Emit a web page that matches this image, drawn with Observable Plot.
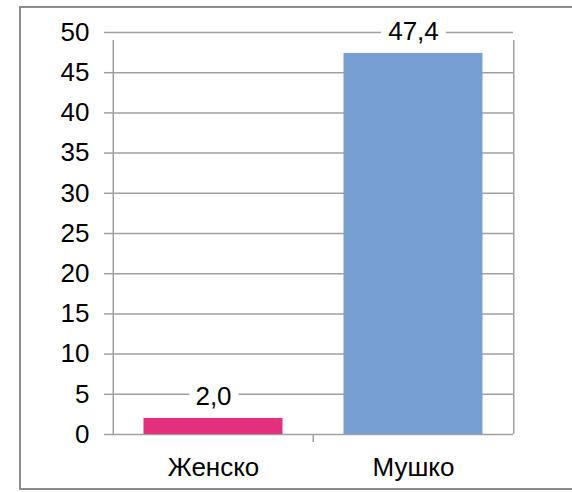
<!DOCTYPE html>
<html>
<head>
<meta charset="utf-8">
<script src="https://cdn.jsdelivr.net/npm/d3@7"></script>
<script src="https://cdn.jsdelivr.net/npm/@observablehq/plot@0.6"></script>
<style>
  html, body { margin: 0; padding: 0; background: #fff; overflow: hidden; }
  #wrap { position: relative; width: 572px; height: 492px; overflow: hidden; }
  #border { position: absolute; left: 19px; top: 6px; width: 556px; height: 484px;
            border: 2px solid #8c8c8c; box-sizing: border-box; pointer-events: none; }
</style>
</head>
<body>
<div id="wrap"><div id="border"></div></div>
<script>
const categories = ["Женско", "Мушко"];
const values = [2.0, 47.4];
const valueLabels = ["2,0", "47,4"];
const barColors = ["#e2307f", "#789fd2"];
const yTicks = [0, 5, 10, 15, 20, 25, 30, 35, 40, 45, 50];

const data = categories.map((c, i) => ({cat: c, value: values[i], label: valueLabels[i]}));

const W = 572, H = 492, mL = 112, mR = 59, mT = 32, mB = 58;
const half = (W - mL - mR) / categories.length / 2;
const grid = "#a0a0a0";
const fs = 26;

const chart = Plot.plot({
  width: W, height: H,
  marginLeft: mL, marginRight: mR, marginTop: mT, marginBottom: mB,
  style: {fontFamily: "'Liberation Sans', Arial, sans-serif", fontSize: fs + "px", background: "transparent", color: "#000"},
  x: {domain: categories, padding: 0, label: null},
  y: {domain: [0, 50], label: null},
  color: {domain: categories, range: barColors},
  marks: [
    Plot.ruleY(yTicks, {stroke: grid, strokeWidth: 1.5}),
    Plot.ruleX([categories[0]], {x: d => d, dx: -half, y1: 0, y2: 50, insetBottom: -8, stroke: grid, strokeWidth: 1.5}),
    Plot.ruleX([categories[1]], {x: d => d, dx: -half, y1: 0, y2: 0, insetBottom: -8, stroke: grid, strokeWidth: 1.5}),
    Plot.ruleX([categories[1]], {x: d => d, dx: half, y1: 0, y2: 50, insetBottom: -8, stroke: grid, strokeWidth: 1.5}),
    Plot.barY(data, {x: "cat", y: "value", fill: "cat", insetLeft: 30.5, insetRight: 30.5}),
    Plot.text(data, {x: "cat", y: "value", text: "label", dy: -22, fill: "#000", stroke: "#fff", strokeWidth: 16, fontSize: fs}),
    Plot.axisY({ticks: yTicks, tickSize: 8, tickPadding: 15, stroke: grid, strokeWidth: 1.5, fill: "#000", label: null, fontSize: fs}),
    Plot.axisX({tickSize: 0, tickPadding: 23, fill: "#000", label: null, fontSize: fs})
  ]
});
document.getElementById("wrap").prepend(chart);
</script>
</body>
</html>
